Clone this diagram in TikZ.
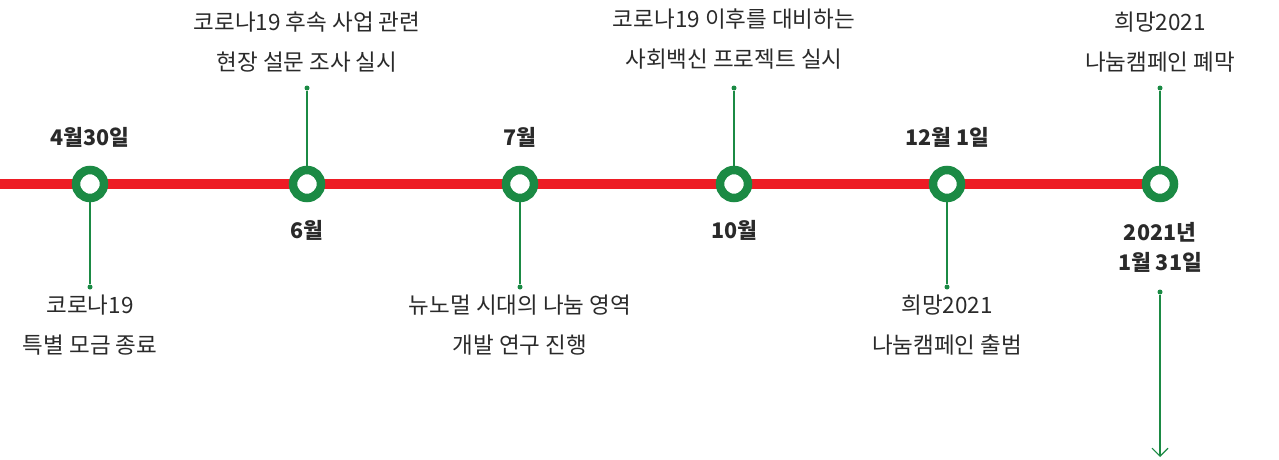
\documentclass[tikz,border=0pt]{standalone}
\usepackage{fontspec}
\setmainfont{Noto Sans CJK KR}
\usetikzlibrary{arrows.meta}
\definecolor{tlred}{HTML}{ED1C24}
\definecolor{tlgreen}{HTML}{1B8A44}
\definecolor{txt}{HTML}{2A2A2A}
\begin{document}
\begin{tikzpicture}[x=1pt,y=-1pt,
  ring/.style={circle,draw=tlgreen,line width=8.5pt,fill=white,minimum size=28pt,inner sep=0pt},
  dotmark/.style={circle,fill=tlgreen,minimum size=5pt,inner sep=0pt},
  stem/.style={draw=tlgreen,line width=1.1pt},
  desc/.style={align=center,font=\fontsize{22.5}{40}\selectfont,text=txt},
  datelbl/.style={align=center,font=\fontsize{21.5}{30}\selectfont\bfseries,text=txt}]
\useasboundingbox (0,0) rectangle (1279,460);
\coordinate (start) at (0,184);
\coordinate (c6c) at (1160,184);
\draw[tlred,line width=10pt] (start) -- (c6c);
% rings
\node[ring] (c1) at (90,184) {};
\node[ring] (c2) at (307,184) {};
\node[ring] (c3) at (520,184) {};
\node[ring] (c4) at (734,184) {};
\node[ring] (c5) at (947,184) {};
\node[ring] (c6) at (1160,184) {};
% dots
\node[dotmark] (d1) at (90,287) {};
\node[dotmark] (d2) at (307,88) {};
\node[dotmark] (d3) at (520,287) {};
\node[dotmark] (d4) at (734,88) {};
\node[dotmark] (d5) at (947,287) {};
\node[dotmark] (d6) at (1160,88) {};
\node[dotmark] (d7) at (1160,292) {};
\coordinate (arrowend) at (1160,457);
% stems
\draw[stem] (c1) -- (d1);
\draw[stem] (c2) -- (d2);
\draw[stem] (c3) -- (d3);
\draw[stem] (c4) -- (d4);
\draw[stem] (c5) -- (d5);
\draw[stem] (c6) -- (d6);
\draw[stem,-{Straight Barb[length=8pt,width=16pt,line width=1.1pt]}] (d7) -- (arrowend);
% dates
\node[datelbl] (t1) at (90,137) {4월30일};
\node[datelbl] (t2) at (307,230) {6월};
\node[datelbl] (t3) at (520,137) {7월};
\node[datelbl] (t4) at (734,230) {10월};
\node[datelbl] (t5) at (947,137) {12월 1일};
\node[datelbl] (t6) at (1160,247) {2021년\\1월 31일};
% descriptions
\node[desc] (e1) at (90,325) {코로나19\\특별 모금 종료};
\node[desc] (e2) at (307,42) {코로나19 후속 사업 관련\\현장 설문 조사 실시};
\node[desc] (e3) at (520,325) {뉴노멀 시대의 나눔 영역\\개발 연구 진행};
\node[desc] (e4) at (734,39) {코로나19 이후를 대비하는\\사회백신 프로젝트 실시};
\node[desc] (e5) at (947,325) {희망2021\\나눔캠페인 출범};
\node[desc] (e6) at (1160,42) {희망2021\\나눔캠페인 폐막};
\end{tikzpicture}
\end{document}
